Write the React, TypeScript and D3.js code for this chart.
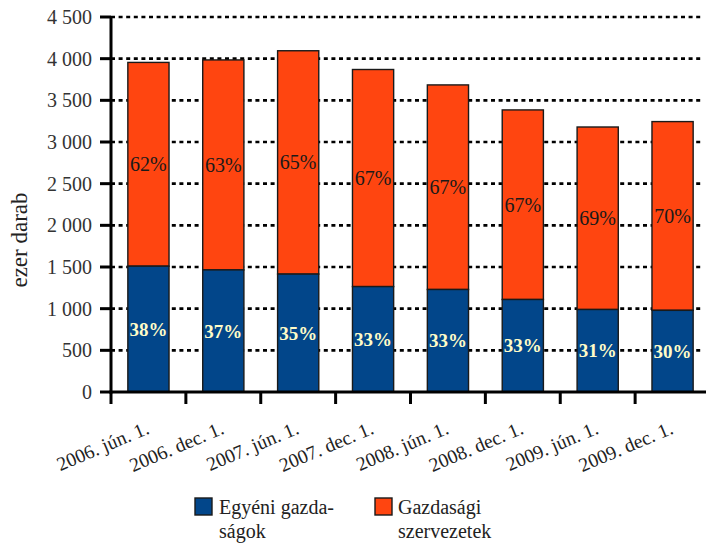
import React from "react";
import * as d3 from "d3";

const categories = [
  "2006. jún. 1.",
  "2006. dec. 1.",
  "2007. jún. 1.",
  "2007. dec. 1.",
  "2008. jún. 1.",
  "2008. dec. 1.",
  "2009. jún. 1.",
  "2009. dec. 1.",
];
// ezer darab
const egyeni = [1510, 1465, 1415, 1265, 1230, 1110, 990, 980];
const gazdasagi = [2445, 2520, 2680, 2605, 2455, 2275, 2190, 2265];
const egyeniPct = ["38%", "37%", "35%", "33%", "33%", "33%", "31%", "30%"];
const gazdasagiPct = ["62%", "63%", "65%", "67%", "67%", "67%", "69%", "70%"];
const yTicks = [0, 500, 1000, 1500, 2000, 2500, 3000, 3500, 4000, 4500];

const W = 706;
const H = 544;
const left = 111;
const right = 710;
const top = 17;
const bottom = 392;

const BLUE = "#02468a";
const RED = "#ff4510";
// "Liberation Serif" by name falls back to sans here, the alias works
const FONT = "Times New Roman";

const fmt = (v: number) =>
  v >= 1000 ? `${Math.floor(v / 1000)} ${String(v % 1000).padStart(3, "0")}` : `${v}`;

export default function App() {
  const x = d3
    .scaleBand<string>()
    .domain(categories)
    .range([left, right])
    .paddingInner(0.45)
    .paddingOuter(0.225);
  const y = d3.scaleLinear().domain([0, 4500]).range([bottom, top]);
  const step = x.step();

  return (
    <div style={{ position: "absolute", left: 0, top: 0 }}>
      <svg width={W} height={H} style={{ display: "block" }}>
        <rect width={W} height={H} fill="#fff" />

        {/* gridlines */}
        {yTicks
          .filter((t) => t > 0)
          .map((t) => (
            <line
              key={t}
              x1={left}
              x2={703}
              y1={y(t)}
              y2={y(t)}
              stroke="#000"
              strokeWidth={2.6}
              strokeDasharray="4 3.6"
            />
          ))}

        {/* bars */}
        {categories.map((c, i) => {
          const x0 = x(c) as number;
          const bw = x.bandwidth();
          const tot = egyeni[i] + gazdasagi[i];
          return (
            <g key={c}>
              <rect
                x={x0}
                y={y(tot)}
                width={bw}
                height={y(egyeni[i]) - y(tot)}
                fill={RED}
                stroke="#1a1a1a"
                strokeWidth={1.4}
              />
              <rect
                x={x0}
                y={y(egyeni[i])}
                width={bw}
                height={y(0) - y(egyeni[i])}
                fill={BLUE}
                stroke="#1a1a1a"
                strokeWidth={1.4}
              />
              <text
                x={x0 + bw / 2}
                y={(y(tot) + y(egyeni[i])) / 2}
                dy="0.35em"
                textAnchor="middle"
                fontFamily={FONT}
                fontSize={20}
                fill="#1a1a1a"
              >
                {gazdasagiPct[i]}
              </text>
              <text
                x={x0 + bw / 2}
                y={(y(0) + y(egyeni[i])) / 2}
                dy="0.35em"
                textAnchor="middle"
                fontFamily={FONT}
                fontSize={19}
                fontWeight="bold"
                fill="#fffcc8"
              >
                {egyeniPct[i]}
              </text>
            </g>
          );
        })}

        {/* y axis */}
        <line x1={left} x2={left} y1={top - 1} y2={bottom + 1.5} stroke="#000" strokeWidth={3} />
        {yTicks.map((t) => (
          <g key={t}>
            <line x1={100} x2={left} y1={y(t)} y2={y(t)} stroke="#000" strokeWidth={3} />
            <text
              x={92}
              y={y(t)}
              dy="0.35em"
              textAnchor="end"
              fontFamily={FONT}
              fontSize={20}
              fill="#333"
            >
              {fmt(t)}
            </text>
          </g>
        ))}
        <text
          transform={`translate(27, 240) rotate(-90)`}
          textAnchor="middle"
          fontFamily={FONT}
          fontSize={23}
          fill="#222"
        >
          ezer darab
        </text>

        {/* x axis */}
        <line x1={left - 1.5} x2={W} y1={bottom} y2={bottom} stroke="#000" strokeWidth={3} />
        {categories.map((c, i) => {
          const tx = left + i * step;
          return (
            <line key={c} x1={tx} x2={tx} y1={bottom} y2={404} stroke="#000" strokeWidth={3} />
          );
        })}
        {categories.map((c) => {
          const cx = (x(c) as number) + x.bandwidth() / 2;
          return (
            <text
              key={c}
              transform={`translate(${cx + 2}, 433) rotate(-23)`}
              textAnchor="end"
              fontFamily={FONT}
              fontSize={19.5}
              fill="#222"
            >
              {c}
            </text>
          );
        })}

        {/* legend */}
        <rect x={195} y={498} width={17} height={17} fill={BLUE} stroke="#1a1a1a" strokeWidth={1.4} />
        <rect x={375} y={498} width={17} height={17} fill={RED} stroke="#1a1a1a" strokeWidth={1.4} />
        {[
          ["Egyéni gazda-", 219, 514],
          ["ságok", 219, 538],
          ["Gazdasági", 398, 514],
          ["szervezetek", 398, 538],
        ].map(([s, lx, ly]) => (
          <text key={s as string} x={lx} y={ly} fontFamily={FONT} fontSize={20} fill="#222">
            {s}
          </text>
        ))}
      </svg>
    </div>
  );
}
